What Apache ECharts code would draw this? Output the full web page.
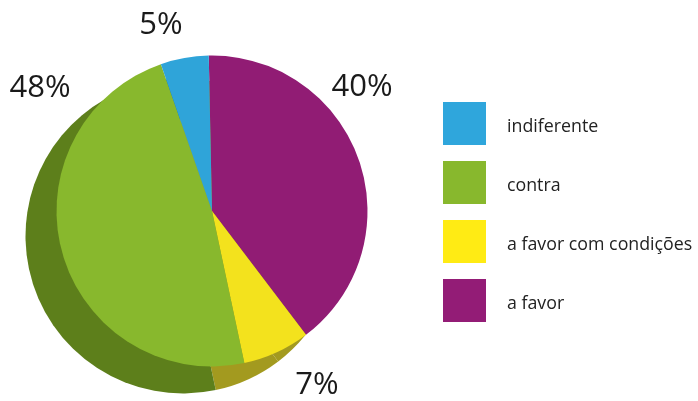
<!DOCTYPE html>
<html>
<head>
<meta charset="utf-8">
<script src="https://cdn.jsdelivr.net/npm/echarts@6/dist/echarts.min.js"></script>
<style>
  html, body { margin: 0; padding: 0; background: #ffffff; }
  #chart { width: 698px; height: 401px; }
</style>
</head>
<body>
<div id="chart"></div>
<script>
// Opinion shares, listed clockwise from the top of the pie
const categories = ['a favor', 'a favor com condições', 'contra', 'indiferente'];
const shares = [40, 7, 48, 5];
const legendOrder = ['indiferente', 'contra', 'a favor com condições', 'a favor'];

// Face colours, side (extruded) colours and legend swatches
const faceColors = {
  'a favor': '#911c74',
  'a favor com condições': '#f3e21d',
  'contra': '#88b82d',
  'indiferente': '#2fa4d9'
};
const sideColors = {
  'a favor': '#a39a1f',
  'a favor com condições': '#a39a1f',
  'contra': '#5d7f1b',
  'indiferente': '#1f6f94'
};
const swatchColors = {
  'a favor': '#931c76',
  'a favor com condições': '#ffeb14',
  'contra': '#88b82d',
  'indiferente': '#2fa6dc'
};

// Where each percentage label sits
const labelAnchors = {
  'a favor': [362, 87],
  'a favor com condições': [317, 385],
  'contra': [40, 88],
  'indiferente': [161, 25]
};

const chart = echarts.init(document.getElementById('chart'), null, { renderer: 'canvas' });

const faceData = categories.map((name, i) => ({
  name: name,
  value: shares[i],
  itemStyle: { color: faceColors[name] }
}));
const sideData = categories.map((name, i) => ({
  name: name,
  value: shares[i],
  itemStyle: { color: sideColors[name] }
}));

chart.setOption({
  animation: false,
  backgroundColor: '#ffffff',
  legend: {
    orient: 'vertical',
    left: 443,
    top: 102,
    padding: 0,
    itemWidth: 43,
    itemHeight: 43,
    itemGap: 16,
    icon: 'rect',
    selectedMode: false,
    data: legendOrder.map(name => ({ name: name, itemStyle: { color: swatchColors[name] } })),
    formatter: '{t|{name}}',
    textStyle: {
      fontFamily: '"Open Sans", sans-serif',
      fontSize: 17.8,
      color: '#222222',
      rich: {
        t: {
          fontFamily: '"Open Sans", sans-serif',
          fontSize: 17.8,
          color: '#222222',
          padding: [6, 0, 0, 16]
        }
      }
    }
  },
  series: [
    {
      // top face of the pie
      name: 'face',
      type: 'pie',
      z: 3,
      center: [212, 211],
      radius: 155.5,
      startAngle: 91.2,
      clockwise: true,
      silent: true,
      data: faceData,
      itemStyle: { borderWidth: 0 },
      label: {
        show: true,
        position: 'inside',
        formatter: '{c}%',
        fontFamily: '"Open Sans", sans-serif',
        fontSize: 31,
        color: '#1a1a1a'
      },
      labelLine: { show: false },
      labelLayout: function (params) {
        const p = labelAnchors[categories[params.dataIndex]];
        return { x: p[0], y: p[1], align: 'center', verticalAlign: 'middle', moveOverlap: false, hideOverlap: false };
      },
      emphasis: { disabled: true }
    },
    {
      // extruded side seen below the face
      name: 'side',
      type: 'pie',
      z: 1,
      center: [183, 236],
      radius: 157.5,
      startAngle: 91.2,
      clockwise: true,
      silent: true,
      data: sideData,
      itemStyle: { borderWidth: 0 },
      label: { show: false },
      labelLine: { show: false },
      emphasis: { disabled: true }
    }
  ]
});
</script>
</body>
</html>
